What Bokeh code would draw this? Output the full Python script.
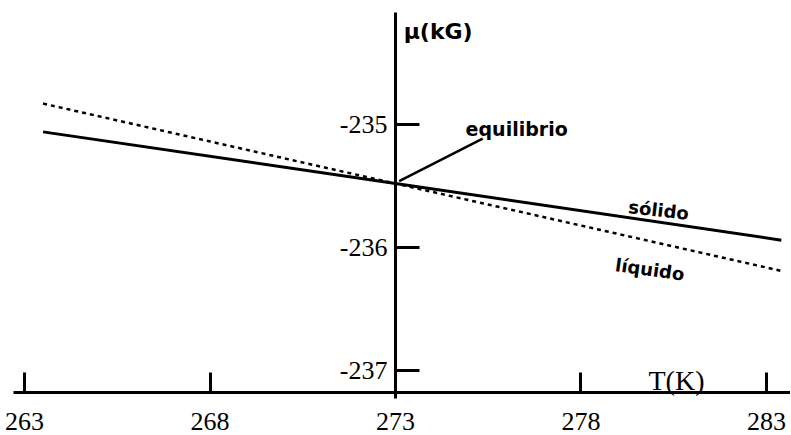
from bokeh.plotting import figure
from bokeh.models import FixedTicker, Label
from bokeh.embed import file_html
from bokeh.resources import INLINE

# ---- data ----
T = [263.5, 273.0, 283.4]                 # temperature (K)
mu_solido = [-235.06, -235.48, -235.94]   # chemical potential, solid (kG)
mu_liquido = [-234.83, -235.48, -236.19]  # chemical potential, liquid (kG)
x_ticks = [263, 268, 273, 278, 283]
y_ticks = [-237, -236, -235]
eq_T = 273.0
eq_mu = -235.48

p = figure(width=790, height=435,
           x_range=(262.353, 283.647), y_range=(-237.528, -233.992),
           output_backend="svg", toolbar_location=None,
           x_axis_location="below", y_axis_location="left")
p.min_border_left = p.min_border_right = p.min_border_top = p.min_border_bottom = 0
p.outline_line_color = None
p.xgrid.visible = False
p.ygrid.visible = False
p.background_fill_color = "white"
p.border_fill_color = "white"

serif = "Liberation Serif"
sans = "DejaVu Sans"

# x axis
xa = p.xaxis[0]
xa.fixed_location = -237.18
xa.bounds = (262.70, 283.647)
xa.ticker = FixedTicker(ticks=x_ticks)
xa.major_tick_in = 20
xa.major_tick_out = 0
xa.minor_tick_in = 0
xa.minor_tick_out = 0
xa.axis_line_width = 3
xa.major_tick_line_width = 3
xa.axis_line_color = "black"
xa.major_tick_line_color = "black"
xa.major_label_text_font = serif
xa.major_label_text_font_size = "26px"
xa.major_label_text_color = "black"
xa.major_label_standoff = 20

# y axis crossing at T = 273
ya = p.yaxis[0]
ya.fixed_location = eq_T
ya.bounds = (-237.23, -234.09)
ya.ticker = FixedTicker(ticks=y_ticks)
ya.major_label_overrides = {t: str(t) for t in y_ticks}
ya.major_tick_in = 24
ya.major_tick_out = 0
ya.minor_tick_in = 0
ya.minor_tick_out = 0
ya.axis_line_width = 3
ya.major_tick_line_width = 3
ya.axis_line_color = "black"
ya.major_tick_line_color = "black"
ya.major_label_text_font = serif
ya.major_label_text_font_size = "26px"
ya.major_label_text_color = "black"
ya.major_label_standoff = 8

# curves
p.line(T, mu_solido, line_color="black", line_width=3)
p.line(T, mu_liquido, line_color="black", line_width=2.5, line_dash="4 4")

# pointer to equilibrium point
p.segment(x0=[eq_T + 0.1], y0=[eq_mu + 0.02], x1=[275.35], y1=[-235.114],
          line_color="black", line_width=2.5)

p.add_layout(Label(x=274.89, y=-235.033, text="equilibrio", text_font=sans,
                   text_font_style="bold", text_font_size="19px",
                   text_color="black", text_baseline="alphabetic"))
p.add_layout(Label(x=273.22, y=-234.244, text="\u03bc(kG)", text_font=sans,
                   text_font_style="bold", text_font_size="22px",
                   text_color="black", text_baseline="alphabetic"))
p.add_layout(Label(x=279.82, y=-237.081, text="T(K)", text_font=serif,
                   text_font_size="28px", text_color="black",
                   text_baseline="alphabetic"))
p.add_layout(Label(x=279.28, y=-235.667, text="s\u00f3lido", text_font=sans,
                   text_font_style="bold", text_font_size="18px",
                   text_color="black", text_baseline="alphabetic", angle=-0.115))
p.add_layout(Label(x=278.93, y=-236.138, text="l\u00edquido", text_font=sans,
                   text_font_style="bold", text_font_size="18px",
                   text_color="black", text_baseline="alphabetic", angle=-0.14))

open("out.html", "w").write(file_html(p, INLINE))
